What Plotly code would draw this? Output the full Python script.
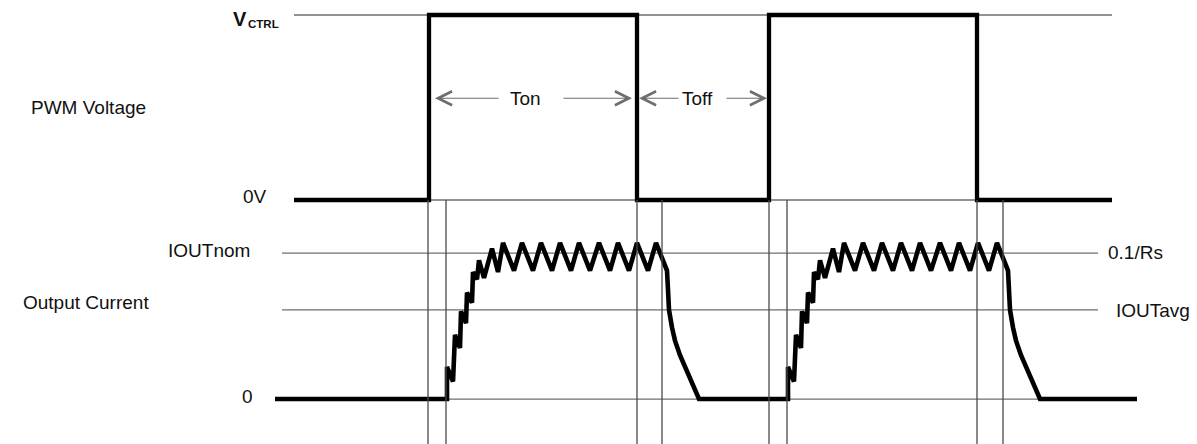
import plotly.graph_objects as go

# ---------------- data (time axis in diagram units, levels normalised) ----------------
# PWM control voltage: 0 = 0V, 1 = VCTRL
pwm_t = [294, 429, 429, 637, 637, 769, 769, 977, 977, 1112]
pwm_v = [0, 0, 1, 1, 0, 0, 1, 1, 0, 0]

# Output current: 0 = zero, 1 = IOUTnom (0.1/Rs)
cur_t = [275, 447, 447, 453, 455, 460, 461, 466, 467, 472, 473, 477, 479, 484, 492, 498,
         503, 514, 522, 533, 541, 552, 560, 571, 579, 590, 599, 610, 618, 629, 637, 648, 656,
         667, 668, 669, 672, 675, 680, 685, 690, 695, 699,
         788, 788, 794, 796, 801, 802, 807, 808, 813, 814, 818, 820, 825, 833, 839,
         844, 855, 863, 874, 882, 893, 901, 912, 920, 931, 940, 951, 959, 970, 978, 989, 997,
         1008, 1009, 1010, 1013, 1016, 1021, 1026, 1031, 1036, 1040, 1137]
cur_i = [0, 0, 0.22, 0.12, 0.44, 0.35, 0.60, 0.52, 0.73, 0.66, 0.87, 0.82, 0.95, 0.83, 1.03, 0.87,
         1.07, 0.88, 1.07, 0.88, 1.07, 0.88, 1.07, 0.88, 1.07, 0.88, 1.07, 0.88, 1.07, 0.88, 1.07, 0.88, 1.07,
         0.88, 0.75, 0.61, 0.49, 0.40, 0.30, 0.22, 0.14, 0.07, 0,
         0, 0.22, 0.12, 0.44, 0.35, 0.60, 0.52, 0.73, 0.66, 0.87, 0.82, 0.95, 0.83, 1.03, 0.87,
         1.07, 0.88, 1.07, 0.88, 1.07, 0.88, 1.07, 0.88, 1.07, 0.88, 1.07, 0.88, 1.07, 0.88, 1.07, 0.88, 1.07,
         0.88, 0.75, 0.61, 0.49, 0.40, 0.30, 0.22, 0.14, 0.07, 0, 0]

# reference levels
v_levels = [1, 0]            # VCTRL, 0V
v_ref_span = [294, 1112]
i_levels = [1, 0.61, 0]      # IOUTnom, IOUTavg, 0
i_ref_span = [[282, 1098], [282, 1098], [275, 1137]]

# timing markers (vertical guides)
marker_t = [428, 446, 637, 662, 769, 787, 977, 1003]

# Ton / Toff arrow annotations: (tip, tail)
arrow_y = 0.55
arrows = [(435, 500), (632, 562), (639, 680), (767, 725)]
arrow_labels = [("Ton", 525), ("Toff", 697)]

FONT = "Liberation Sans, Arial, sans-serif"
GRAY = "#6e6e6e"

fig = go.Figure()

# thin reference lines
for lv in v_levels:
    fig.add_trace(go.Scatter(x=v_ref_span, y=[lv, lv], mode="lines", yaxis="y2",
                             line=dict(color=GRAY, width=1.3), hoverinfo="skip"))
for lv, span in zip(i_levels, i_ref_span):
    fig.add_trace(go.Scatter(x=span, y=[lv, lv], mode="lines", yaxis="y",
                             line=dict(color=GRAY, width=1.3), hoverinfo="skip"))

# vertical guides from 0V level to bottom
for t in marker_t:
    fig.add_shape(type="line", xref="x", yref="y2", x0=t, x1=t, y0=0, y1=-1.5,
                  line=dict(color="#4a4a4a", width=1.3), layer="above")

# waveforms
fig.add_trace(go.Scatter(x=pwm_t, y=pwm_v, mode="lines", yaxis="y2",
                         line=dict(color="black", width=4.3), hoverinfo="skip"))
fig.add_trace(go.Scatter(x=cur_t, y=cur_i, mode="lines", yaxis="y",
                         line=dict(color="black", width=4.6), hoverinfo="skip"))

ann = []
for tip, tail in arrows:
    ann.append(dict(x=tip, y=arrow_y, ax=tail, ay=arrow_y, xref="x", yref="y2",
                    axref="x", ayref="y2", text="", showarrow=True, arrowhead=5,
                    arrowsize=2.3, arrowwidth=1.2, arrowcolor=GRAY, standoff=0))
for txt, xc in arrow_labels:
    ann.append(dict(x=xc, y=arrow_y, xref="x", yref="y2", text=txt, showarrow=False,
                    font=dict(family=FONT, size=19, color="#111")))


def label(txt, x, y, yref, xanchor="left", size=19, yshift=0):
    ann.append(dict(x=x, y=y, xref="x", yref=yref, text=txt, showarrow=False,
                    xanchor=xanchor, yshift=yshift,
                    font=dict(family=FONT, size=size, color="#111")))


label("<b>V</b>", 231, 1, "y2", yshift=-4, size=20)
label("<b>CTRL</b>", 246, 1, "y2", yshift=-9, size=11.5)
label("PWM Voltage", 148, 0.5, "y2", xanchor="right", yshift=0)
label("0V", 255, 0, "y2", xanchor="center", yshift=3)
label("IOUTnom", 166, 1, "y", yshift=3)
label("Output Current", 151, 0.61, "y", xanchor="right", yshift=7)
label("0", 247, 0, "y", xanchor="center", yshift=3)
label("0.1/Rs", 1106, 1, "y", yshift=1)
label("IOUTavg", 1114, 0.61, "y", yshift=-1)

fig.update_layout(
    width=1197, height=444, margin=dict(l=0, r=0, t=0, b=0),
    paper_bgcolor="white", plot_bgcolor="white", showlegend=False,
    xaxis=dict(range=[0, 1197], visible=False, fixedrange=True),
    yaxis=dict(range=[-0.308, 2.733], visible=False, fixedrange=True),
    yaxis2=dict(range=[-1.319, 1.081], visible=False, overlaying="y", fixedrange=True),
    annotations=ann,
)

fig.write_html("out.html", config={"displayModeBar": False},
               post_script="document.body.style.margin='0';document.body.style.overflow='hidden';")
